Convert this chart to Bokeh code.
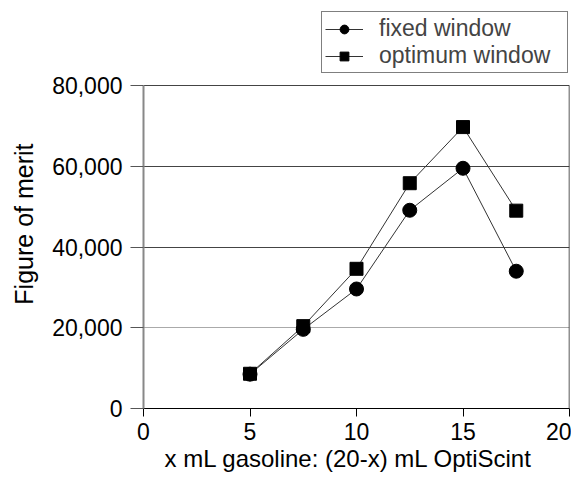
from bokeh.plotting import figure
from bokeh.models import (Range1d, FixedTicker, NumeralTickFormatter, Legend,
                          LegendItem, Title, Grid)
from bokeh.embed import file_html
from bokeh.resources import INLINE

# ---- data ----
x_ml = [5, 7.5, 10, 12.5, 15, 17.5]
fixed_window = [8500, 19600, 29600, 49100, 59500, 34000]
optimum_window = [8600, 20400, 34600, 55800, 69700, 49000]
x_ticks = [0, 5, 10, 15, 20]
y_ticks = [0, 20000, 40000, 60000, 80000]
x_title = "x mL gasoline: (20-x) mL OptiScint"
y_title = "Figure of merit"
series_names = ["fixed window", "optimum window"]

FONT = "Liberation Sans"

# layout (pixels): plot box from y=85 (top) to y=408 (bottom); the frame is
# extended upward to y=8 so that the legend above the box is not clipped
W, H = 571, 472
LEFT, RIGHT, TOP, BOTTOM = 141, 2, 8, 64
BOX_TOP = 85
frame_h = H - TOP - BOTTOM
x_lo, x_hi = x_ticks[0], x_ticks[-1]
y_lo, y_hi = y_ticks[0], y_ticks[-1]
y_end = y_lo + (y_hi - y_lo) * frame_h / (frame_h - (BOX_TOP - TOP))

p = figure(width=W, height=H, output_backend="svg", toolbar_location=None,
           x_range=Range1d(x_lo, x_hi), y_range=Range1d(y_lo, y_end),
           min_border_left=LEFT, min_border_right=RIGHT,
           min_border_top=TOP, min_border_bottom=BOTTOM)
p.background_fill_color = "white"
p.border_fill_color = "white"
p.outline_line_color = None

# axes
p.xaxis.ticker = FixedTicker(ticks=x_ticks)
p.yaxis.ticker = FixedTicker(ticks=y_ticks)
p.yaxis.bounds = (y_lo, y_hi)
p.yaxis.formatter = NumeralTickFormatter(format="0,0")
for ax in (p.xaxis, p.yaxis):
    ax.major_label_text_font = FONT
    ax.major_label_text_font_size = "23px"
    ax.major_label_text_color = "black"
    ax.minor_tick_line_color = None
    ax.major_tick_in = 0
    ax.axis_label = None
p.xaxis.axis_line_color = "black"
p.xaxis.axis_line_width = 1
p.xaxis.major_tick_line_color = "black"
p.xaxis.major_tick_out = 8
p.xaxis.major_label_standoff = 6
p.yaxis.axis_line_color = "#888888"
p.yaxis.axis_line_width = 2
p.yaxis.major_tick_line_color = "#555555"
p.yaxis.major_tick_out = 13
p.yaxis.major_label_standoff = 8

# grid (the 80,000 line is the top edge of the plot box)
p.xgrid.grid_line_color = None
p.ygrid.ticker = FixedTicker(ticks=[40000, 60000, 80000])
p.ygrid.grid_line_color = "#444444"
p.ygrid.grid_line_width = 1
g2 = Grid(dimension=1, ticker=FixedTicker(ticks=[20000]),
          grid_line_color="#aaaaaa", grid_line_width=1)
p.add_layout(g2)
# right edge of the plot box
p.line([x_hi, x_hi], [y_lo, y_hi], line_color="#222222", line_width=1.5)

# series
l1 = p.line(x_ml, fixed_window, line_color="#333333", line_width=1)
m1 = p.scatter(x_ml, fixed_window, marker="circle", size=14,
               fill_color="black", line_color="black")
l2 = p.line(x_ml, optimum_window, line_color="#333333", line_width=1)
m2 = p.scatter(x_ml, optimum_window, marker="square", size=13,
               fill_color="black", line_color="black")

legend = Legend(items=[LegendItem(label=series_names[0], renderers=[l1, m1]),
                       LegendItem(label=series_names[1], renderers=[l2, m2])],
                location=(178, 335), margin=0, padding=3, spacing=0,
                glyph_width=38, glyph_height=22, label_height=22,
                label_standoff=16, label_width=185,
                label_text_font=FONT, label_text_font_size="23px",
                border_line_color="black", border_line_width=1,
                background_fill_color="white", background_fill_alpha=1)
p.add_layout(legend)

# axis titles
p.add_layout(Title(text=y_title, align="right", offset=135,
                   vertical_align="top", standoff=19,
                   text_font=FONT, text_font_size="25px",
                   text_font_style="normal", text_color="black"), "left")
p.add_layout(Title(text=x_title, align="left", offset=21,
                   vertical_align="bottom", standoff=0,
                   text_font=FONT, text_font_size="24px",
                   text_font_style="normal", text_color="black"), "below")

open("out.html", "w").write(file_html(p, INLINE))
